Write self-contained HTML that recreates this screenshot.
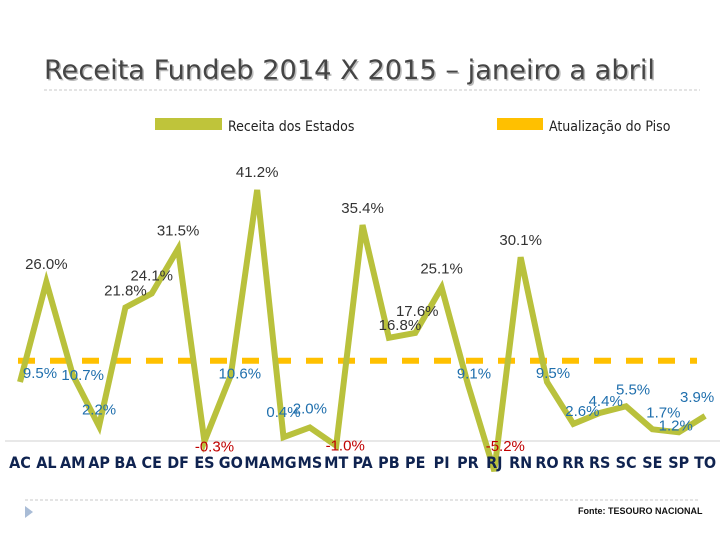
<!DOCTYPE html>
<html><head><meta charset="utf-8"><style>
html,body{margin:0;padding:0;background:#fff;}
svg{display:block;font-family:"Liberation Sans",sans-serif;}
</style></head><body>
<svg id="chart" width="720" height="540" viewBox="0 0 720 540">
<text x="44" y="79" font-size="27" fill="#bbb" font-family="'DejaVu Sans Condensed','DejaVu Sans',sans-serif" textLength="611" lengthAdjust="spacingAndGlyphs" transform="translate(1.5,1.5)">Receita Fundeb 2014 X 2015 – janeiro a abril</text>
<text x="44" y="79" font-size="27" fill="#454545" font-family="'DejaVu Sans Condensed','DejaVu Sans',sans-serif" textLength="611" lengthAdjust="spacingAndGlyphs">Receita Fundeb 2014 X 2015 – janeiro a abril</text>
<line x1="44" y1="90" x2="700" y2="90" stroke="#c8c8c8" stroke-dasharray="3,2"/>
<rect x="155" y="118" width="67" height="12" fill="#bfc43a"/>
<text x="228" y="131" font-size="14" fill="#222" font-family="'DejaVu Sans Condensed',sans-serif">Receita dos Estados</text>
<rect x="497" y="118" width="46" height="12" fill="#ffc000"/>
<text x="549" y="131" font-size="14" fill="#222" font-family="'DejaVu Sans Condensed',sans-serif">Atualização do Piso</text>
<line x1="5" y1="441" x2="720" y2="441" stroke="#d0d0d0" stroke-width="1"/>
<g id="marks"></g>
<line x1="25" y1="500" x2="700" y2="500" stroke="#c8c8c8" stroke-dasharray="3,2"/>
<polygon points="25,506 33,512 25,518" fill="#a9bcd6"/>
<text x="578" y="514" font-size="9" font-weight="bold" fill="#111">Fonte: TESOURO NACIONAL</text>
</svg>
<script>
const categories = ["AC","AL","AM","AP","BA","CE","DF","ES","GO","MA","MG","MS","MT","PA","PB","PE","PI","PR","RJ","RN","RO","RR","RS","SC","SE","SP","TO"];
const receitaValues = [9.5,26.0,10.7,2.2,21.8,24.1,31.5,-0.3,10.6,41.2,0.4,2.0,-1.0,35.4,16.8,17.6,25.1,9.1,-5.2,30.1,9.5,2.6,4.4,5.5,1.7,1.2,3.9];
const pisoValue = 13.01;
const labelDx = [20,0,10,0,0,0,0,10,9,0,0,0,9,0,11,2,0,6,11,0,6,9,6,7,11,-3,-8];
const labelDy = [-9,-18,0,-17,-17,-18,-18,5,-2,-18,-25,-19,0,-17,-13,-22,-19,-11,-25,-17,-9,-13,-12,-17,-17,-7,-19];
const NS="http://www.w3.org/2000/svg";
const x0=20, step=26.35, yZero=439.6, pxPerUnit=6.06;
function xScale(i){return x0+i*step;}
function yScale(v){return yZero-v*pxPerUnit;}
const g=document.getElementById('marks');
function mk(t,a){const e=document.createElementNS(NS,t);for(const k in a)e.setAttribute(k,a[k]);return e;}
const piso=mk('line',{x1:18,x2:697,y1:yScale(pisoValue),y2:yScale(pisoValue),stroke:'#ffc000','stroke-width':6,'stroke-dasharray':'17,15'});


g.appendChild(piso);
const pts=receitaValues.map((v,i)=>xScale(i)+','+yScale(v)).join(' ');
const line=mk('polyline',{points:pts,fill:'none',stroke:'#b9c13c','stroke-width':6,'stroke-linejoin':'miter'});


g.appendChild(line);
receitaValues.forEach((v,i)=>{
  const col = v<0?'#c00000':(v>15?'#333333':'#1f6fad');
  const t=mk('text',{x:xScale(i)+labelDx[i],y:yScale(v)+labelDy[i]+5,'font-size':15,'text-anchor':'middle',fill:col});
  t.textContent=v.toFixed(1)+'%';
  
  
  g.appendChild(t);
  const c=mk('text',{x:xScale(i),y:468,'font-size':16,'font-weight':'bold','text-anchor':'middle',fill:'#0f2350','font-family':'"DejaVu Sans Condensed",sans-serif'});
  c.textContent=categories[i];
  
  
  g.appendChild(c);
});
</script>
</body></html>
